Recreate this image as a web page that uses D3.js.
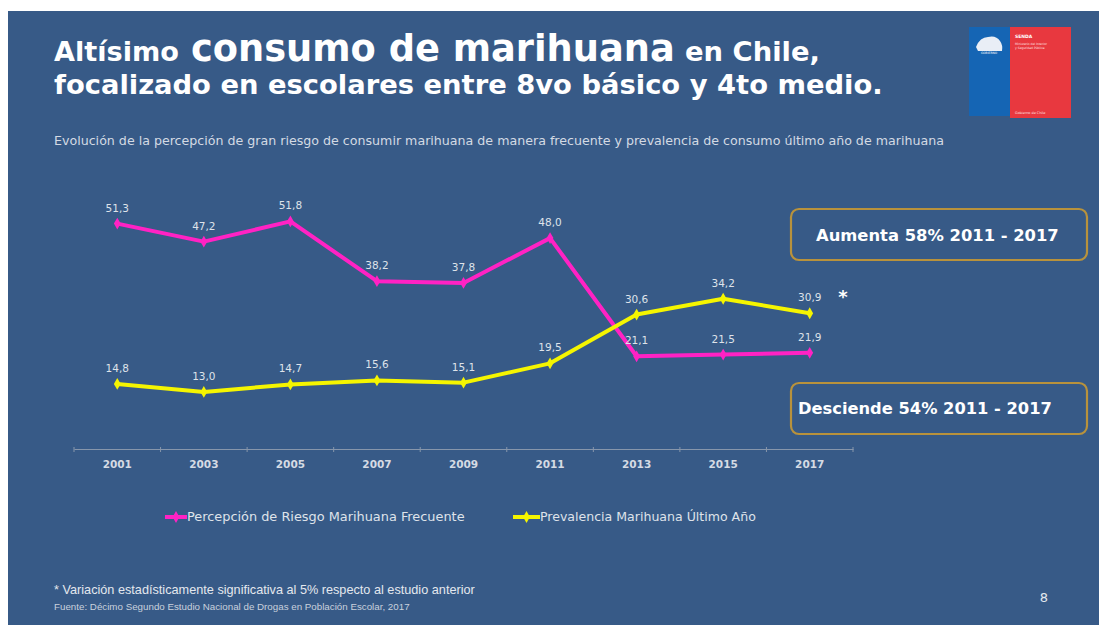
<!DOCTYPE html>
<html><head><meta charset="utf-8">
<script src="https://cdn.jsdelivr.net/npm/d3@7"></script>
<style>html,body{margin:0;padding:0;background:#fff;}svg{display:block;}</style>
</head><body>
<svg id="chart" width="1099" height="625"></svg>
<script>
// ---- data ----
const years = ["2001","2003","2005","2007","2009","2011","2013","2015","2017"];
const percepcion = [51.3,47.2,51.8,38.2,37.8,48.0,21.1,21.5,21.9];
const prevalencia = [14.8,13.0,14.7,15.6,15.1,19.5,30.6,34.2,30.9];
const seriesNames = ["Percepción de Riesgo Marihuana Frecuente","Prevalencia Marihuana Último Año"];
const boxTexts = ["Aumenta 58% 2011 - 2017","Desciende 54% 2011 - 2017"];

const BG = "#375a87", PINK = "#ff22c4", YEL = "#f5f500", LBL = "#dfe3ea";
const FONT = "'DejaVu Sans', Verdana, sans-serif";
const svg = d3.select("#chart");

function fit(t, w){
  const fs = parseFloat(t.attr("font-size"));
  const len = t.node().getComputedTextLength();
  if (len > 0) t.attr("font-size", fs * w / len);
  return t;
}

// slide background
svg.append("rect").attr("x",8).attr("y",11).attr("width",1091).attr("height",614).attr("fill",BG);

// title
const t1 = [["Altísimo",54,179,22],["consumo de marihuana",191,675,32],["en Chile,",685,820,22]];
t1.forEach(([s,x0,x1,fs])=>{
  fit(svg.append("text").attr("x",x0).attr("y",61).attr("font-family",FONT).attr("font-weight","bold")
    .attr("font-size",fs).attr("fill","#ffffff").text(s), x1-x0);
});
fit(svg.append("text").attr("x",54).attr("y",94).attr("font-family",FONT).attr("font-weight","bold")
  .attr("font-size",23).attr("fill","#ffffff").text("focalizado en escolares entre 8vo básico y 4to medio."), 829);
fit(svg.append("text").attr("x",54).attr("y",145).attr("font-family",FONT)
  .attr("font-size",10).attr("fill","#d4dae4")
  .text("Evolución de la percepción de gran riesgo de consumir marihuana de manera frecuente y prevalencia de consumo último año de marihuana"), 891);

// logo
const logo = svg.append("g");
logo.append("rect").attr("x",969).attr("y",27).attr("width",41).attr("height",89).attr("fill","#1565b4");
logo.append("rect").attr("x",1010).attr("y",27).attr("width",61).attr("height",91).attr("fill","#e8383f");
logo.append("path").attr("d","M976,47 q4,-10 12,-10 q8,-2 12,4 q3,4 2,10 l-24,0 z").attr("fill","#e9eef6");
logo.append("text").attr("x",989).attr("y",54).attr("text-anchor","middle").attr("font-family",FONT).attr("font-size",3).attr("fill","#ffffff").text("GOBIERNO");
logo.append("text").attr("x",1015).attr("y",38).attr("font-family",FONT).attr("font-weight","bold").attr("font-size",4.5).attr("fill","#ffffff").text("SENDA");
logo.append("text").attr("x",1015).attr("y",45).attr("font-family",FONT).attr("font-size",3).attr("fill","#ffe0e0").text("Ministerio del Interior");
logo.append("text").attr("x",1015).attr("y",49).attr("font-family",FONT).attr("font-size",3).attr("fill","#ffe0e0").text("y Seguridad Pública");
logo.append("text").attr("x",1015).attr("y",114).attr("font-family",FONT).attr("font-size",3.4).attr("fill","#ffe0e0").text("Gobierno de Chile");

// scales
const x = d3.scaleBand().domain(years).range([74,853]).padding(0);
const cx = d => x(d) + x.bandwidth()/2;
const y = d3.scaleLinear().domain([0,60]).range([449,185.4]);

// axis
const ax = svg.append("g").attr("transform","translate(0,449)")
  .call(d3.axisBottom(x).tickSize(0).tickPadding(12));
ax.select(".domain").attr("stroke","#8796ab").attr("stroke-width",1.2);
ax.selectAll(".tick text").attr("font-family",FONT).attr("font-size",10.5).attr("font-weight","bold").attr("fill","#d5dbe4");
const edges = years.map(d=>x(d)).concat([x.range()[1]]);
svg.append("g").selectAll("line").data(edges).join("line")
  .attr("x1",d=>d).attr("x2",d=>d).attr("y1",447).attr("y2",452)
  .attr("stroke","#8796ab").attr("stroke-width",1);

// series
const fmt = v => d3.format(".1f")(v).replace(".",",");
const series = [{vals:percepcion,color:PINK},{vals:prevalencia,color:YEL}];
const line = d3.line().x(d=>cx(d.year)).y(d=>y(d.v));
const diamond = d3.symbol().type(d3.symbolDiamond).size(40);
series.forEach(s=>{
  const pts = years.map((yr,i)=>({year:yr,v:s.vals[i]}));
  svg.append("path").datum(pts).attr("d",line).attr("fill","none")
    .attr("stroke",s.color).attr("stroke-width",4).attr("stroke-linejoin","round");
  svg.append("g").selectAll("path").data(pts).join("path")
    .attr("d",diamond).attr("transform",d=>`translate(${cx(d.year)},${y(d.v)})`).attr("fill",s.color);
  svg.append("g").selectAll("text").data(pts).join("text")
    .attr("x",d=>cx(d.year)).attr("y",d=>y(d.v)-12).attr("text-anchor","middle")
    .attr("font-family",FONT).attr("font-size",10.5).attr("fill",LBL).text(d=>fmt(d.v));
});
// asterisk
svg.append("text").attr("x",843).attr("y",303).attr("text-anchor","middle").attr("font-family",FONT)
  .attr("font-weight","bold").attr("font-size",18).attr("fill","#ffffff").text("*");

// boxes
const boxes = [{y0:209,text:boxTexts[0],tx:816,tw:243,by:241},{y0:383,text:boxTexts[1],tx:798,tw:254,by:414}];
boxes.forEach(b=>{
  svg.append("rect").attr("x",791).attr("y",b.y0).attr("width",296).attr("height",51).attr("rx",8)
    .attr("fill","none").attr("stroke","#b8923c").attr("stroke-width",2.2);
  fit(svg.append("text").attr("x",b.tx).attr("y",b.by).attr("font-family",FONT).attr("font-weight","bold")
    .attr("font-size",15).attr("fill","#ffffff").text(b.text), b.tw);
});

// legend
const leg = [{x0:165,x1:187,tw:278,color:PINK,name:seriesNames[0]},{x0:513,x1:540,tw:216,color:YEL,name:seriesNames[1]}];
leg.forEach(l=>{
  svg.append("line").attr("x1",l.x0).attr("x2",l.x1).attr("y1",517).attr("y2",517).attr("stroke",l.color).attr("stroke-width",4);
  svg.append("path").attr("d",diamond).attr("transform",`translate(${(l.x0+l.x1)/2},517)`).attr("fill",l.color);
  fit(svg.append("text").attr("x",l.x1).attr("y",521).attr("font-family",FONT).attr("font-size",10.5)
    .attr("fill","#dfe3ea").text(l.name), l.tw);
});

// footer
fit(svg.append("text").attr("x",54).attr("y",594).attr("font-family","'Liberation Sans Narrow','Liberation Sans',sans-serif")
  .attr("font-size",11).attr("fill","#e4e8ee").text("* Variación estadísticamente significativa al 5% respecto al estudio anterior"), 421);
fit(svg.append("text").attr("x",54).attr("y",610).attr("font-family","'Liberation Sans Narrow','Liberation Sans',sans-serif")
  .attr("font-size",9).attr("fill","#c9d1dd").text("Fuente: Décimo Segundo Estudio Nacional de Drogas en Población Escolar, 2017"), 356);
svg.append("text").attr("x",1044).attr("y",602).attr("text-anchor","middle").attr("font-family",FONT)
  .attr("font-size",13).attr("fill","#e4e8ee").text("8");
</script>
</body></html>
